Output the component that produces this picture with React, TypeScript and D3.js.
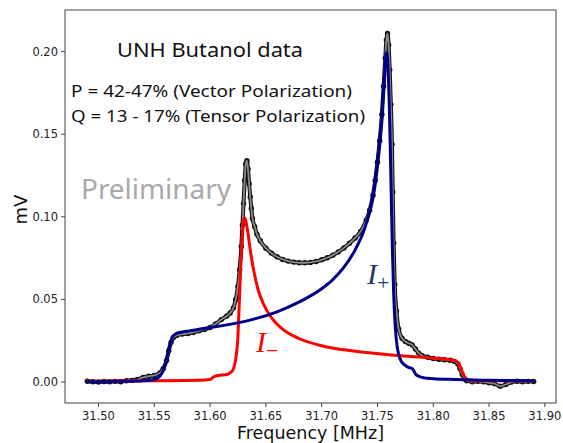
import React from "react";
import * as d3 from "d3";

const W = 563;
const H = 443;
const margin = { top: 10, right: 7, bottom: 40, left: 65 };

const measFreq = [
  31.49, 31.495, 31.5, 31.505, 31.51, 31.515, 31.52, 31.525, 31.53, 31.535,
  31.54, 31.545, 31.55, 31.555, 31.558, 31.561, 31.563, 31.565, 31.567, 31.57,
  31.575, 31.58, 31.585, 31.59, 31.595, 31.6, 31.605, 31.61, 31.615, 31.618,
  31.621, 31.623, 31.625, 31.6265, 31.628, 31.629, 31.63, 31.631, 31.632, 31.633,
  31.634, 31.635, 31.636, 31.637, 31.638, 31.64, 31.642, 31.645, 31.65, 31.655,
  31.66, 31.665, 31.67, 31.675, 31.68, 31.685, 31.69, 31.695, 31.7, 31.705,
  31.71, 31.715, 31.72, 31.725, 31.73, 31.735, 31.74, 31.743, 31.746, 31.748,
  31.75, 31.752, 31.754, 31.7555, 31.757, 31.758, 31.759, 31.76, 31.761, 31.762,
  31.763, 31.7637, 31.7645, 31.7655, 31.767, 31.769, 31.772, 31.775, 31.778, 31.781,
  31.784, 31.787, 31.79, 31.795, 31.8, 31.805, 31.81, 31.815, 31.819, 31.822,
  31.824, 31.826, 31.828, 31.83, 31.835, 31.84, 31.845, 31.85, 31.855, 31.86,
  31.865, 31.87, 31.875, 31.88, 31.885, 31.89,
];
const measMV = [
  0.0005, 0.0002, 0.0, 0.0003, 0.0001, 0.0004, 0.0002, 0.0008, 0.001, 0.0015,
  0.0028, 0.0035, 0.004, 0.0055, 0.008, 0.013, 0.019, 0.024, 0.0268, 0.0282,
  0.029, 0.0294, 0.03, 0.031, 0.0318, 0.033, 0.0352, 0.0378, 0.04, 0.0418,
  0.045, 0.05, 0.058, 0.068, 0.082, 0.095, 0.108, 0.122, 0.132, 0.134,
  0.129, 0.12, 0.112, 0.105, 0.099, 0.094, 0.0895, 0.0855, 0.081, 0.078,
  0.0758, 0.0742, 0.0732, 0.0726, 0.0722, 0.0722, 0.0724, 0.073, 0.074, 0.0752,
  0.0768, 0.0788, 0.0812, 0.084, 0.0872, 0.0912, 0.098, 0.104, 0.113, 0.122,
  0.133, 0.146, 0.162, 0.179, 0.196, 0.207, 0.211, 0.204, 0.189, 0.168,
  0.144, 0.115, 0.084, 0.059, 0.043, 0.032, 0.0265, 0.0245, 0.0235, 0.0225,
  0.02, 0.0175, 0.016, 0.015, 0.0142, 0.0138, 0.0135, 0.0132, 0.0125, 0.011,
  0.008, 0.0045, 0.002, 0.0008, 0.0002, 0.0004, 0.0001, -0.0005, -0.001, -0.0025,
  -0.0015, 0.0, 0.0005, 0.0002, 0.0004, 0.0003,
];

// I+ component (blue)
const plusFreq = [
  31.49, 31.52, 31.54, 31.55, 31.555, 31.558, 31.561, 31.563, 31.565, 31.567,
  31.57, 31.575, 31.585, 31.6, 31.62, 31.64, 31.66, 31.68, 31.7, 31.71,
  31.72, 31.73, 31.738, 31.744, 31.748, 31.751, 31.754, 31.756, 31.7575, 31.7585,
  31.7595, 31.7605, 31.7615, 31.7625, 31.7635, 31.7645, 31.766, 31.768, 31.771, 31.775,
  31.778, 31.78, 31.782, 31.784, 31.787, 31.792, 31.8, 31.82, 31.85, 31.89,
];
const plusMV = [
  0.0002, 0.0004, 0.0008, 0.0015, 0.0035, 0.007, 0.014, 0.02, 0.025, 0.028,
  0.0295, 0.0303, 0.0313, 0.033, 0.0352, 0.0382, 0.0425, 0.0485, 0.0565, 0.062,
  0.0695, 0.08, 0.092, 0.106, 0.122, 0.14, 0.162, 0.182, 0.197, 0.1995,
  0.19, 0.17, 0.142, 0.108, 0.078, 0.054, 0.033, 0.02, 0.013, 0.01,
  0.0088, 0.0085, 0.0075, 0.005, 0.0035, 0.0025, 0.002, 0.0015, 0.001, 0.0008,
];

// I- component (red)
const minusFreq = [
  31.49, 31.55, 31.59, 31.6, 31.603, 31.606, 31.61, 31.615, 31.618, 31.621,
  31.623, 31.625, 31.626, 31.627, 31.628, 31.629, 31.63, 31.631, 31.632, 31.634,
  31.636, 31.639, 31.643, 31.648, 31.655, 31.665, 31.68, 31.7, 31.72, 31.74,
  31.76, 31.78, 31.8, 31.815, 31.82, 31.823, 31.825, 31.827, 31.829, 31.832,
  31.84, 31.89,
];
const minusMV = [
  0.0005, 0.0007, 0.001, 0.0015, 0.003, 0.0038, 0.0042, 0.0045, 0.0055, 0.008,
  0.014, 0.028, 0.045, 0.062, 0.078, 0.09, 0.0975, 0.0995, 0.0975, 0.09,
  0.08, 0.068, 0.056, 0.047, 0.039, 0.032, 0.0262, 0.022, 0.0195, 0.0178,
  0.0165, 0.0155, 0.0145, 0.0135, 0.0128, 0.011, 0.008, 0.0045, 0.0022, 0.0012,
  0.0008, 0.0007,
];

const xTicks = [31.5, 31.55, 31.6, 31.65, 31.7, 31.75, 31.8, 31.85, 31.9];
const yTicks = [0, 0.05, 0.1, 0.15, 0.2];

const title = "UNH Butanol data";
const noteP = "P = 42-47% (Vector Polarization)";
const noteQ = "Q = 13 - 17% (Tensor Polarization)";

export default function App() {
  const x = d3.scaleLinear().domain([31.47, 31.91]).range([margin.left, W - margin.right]);
  const y = d3.scaleLinear().domain([-0.0127, 0.2252]).range([H - margin.bottom, margin.top]);

  const line = d3
    .line<[number, number]>()
    .x((d) => x(d[0]))
    .y((d) => y(d[1]))
    .curve(d3.curveMonotoneX);

  const meas = measFreq.map((f, i) => [f, measMV[i]] as [number, number]);
  const plus = plusFreq.map((f, i) => [f, plusMV[i]] as [number, number]);
  const minus = minusFreq.map((f, i) => [f, minusMV[i]] as [number, number]);

  const fmt = d3.format(".2f");
  const tickFont = "DejaVu Sans, sans-serif";
  const noteFont = "Noto Sans, sans-serif";
  const x0 = margin.left;
  const y0 = H - margin.bottom;

  return (
    <svg width={W} height={H} style={{ position: "absolute", left: 0, top: 0, background: "#fff" }}>
      {/* measured data: band + dots */}
      <path d={line(meas) || ""} fill="none" stroke="#111" strokeWidth={4} strokeLinejoin="round" />
      {meas.map((d, i) => (
        <circle key={i} cx={x(d[0])} cy={y(d[1])} r={2.7} fill="#111" />
      ))}
      {/* fit */}
      <path d={line(meas) || ""} fill="none" stroke="#8a8a8a" strokeWidth={1.8} />
      {/* components */}
      <path d={line(minus) || ""} fill="none" stroke="#ff0000" strokeWidth={3} strokeLinejoin="round" />
      <path d={line(plus) || ""} fill="none" stroke="#00008b" strokeWidth={3} strokeLinejoin="round" />

      {/* frame */}
      <rect
        x={x0}
        y={margin.top}
        width={W - margin.right - margin.left}
        height={H - margin.bottom - margin.top}
        fill="none"
        stroke="#444"
        strokeWidth={1}
      />

      {/* x axis */}
      {xTicks.map((t) => (
        <g key={t}>
          <line x1={x(t)} x2={x(t)} y1={y0} y2={y0 + 4} stroke="#444" />
          <text x={x(t)} y={y0 + 17} textAnchor="middle" fontFamily={tickFont} fontSize={11.5} fill="#222">
            {fmt(t)}
          </text>
        </g>
      ))}
      {/* y axis */}
      {yTicks.map((t) => (
        <g key={t}>
          <line x1={x0 - 4} x2={x0} y1={y(t)} y2={y(t)} stroke="#444" />
          <text x={x0 - 7} y={y(t) + 4} textAnchor="end" fontFamily={tickFont} fontSize={11.5} fill="#222">
            {fmt(t)}
          </text>
        </g>
      ))}
      <text x={(x0 + W - margin.right) / 2} y={439} textAnchor="middle" fontFamily={tickFont} fontSize={17.5} fill="#111">
        Frequency [MHz]
      </text>
      <text
        transform={`translate(27,${(margin.top + y0) / 2 + 3}) rotate(-90)`}
        textAnchor="middle"
        fontFamily={tickFont}
        fontSize={18}
        fill="#111"
      >
        mV
      </text>

      {/* annotations */}
      <text x={117} y={57} fontFamily={noteFont} fontSize={20} fill="#111" textLength={186} lengthAdjust="spacingAndGlyphs">
        {title}
      </text>
      <text x={71} y={97} fontFamily={noteFont} fontSize={17} fill="#111" textLength={281} lengthAdjust="spacingAndGlyphs">
        {noteP}
      </text>
      <text x={71} y={122} fontFamily={noteFont} fontSize={17} fill="#111" textLength={294} lengthAdjust="spacingAndGlyphs">
        {noteQ}
      </text>
      <text x={81} y={199} fontFamily={noteFont} fontSize={27} fill="#a9a9a9" textLength={150} lengthAdjust="spacingAndGlyphs">
        Preliminary
      </text>
      <text x={367} y={284} fontFamily="Liberation Serif, serif" fontStyle="italic" fontSize={30} fill="#1f3a60">
        I
        <tspan fontStyle="normal" fontSize={22} dy={6}>+</tspan>
      </text>
      <text x={256} y={352} fontFamily="Liberation Serif, serif" fontStyle="italic" fontSize={30} fill="#ff0000">
        I
        <tspan fontStyle="normal" fontSize={22} dy={6}>−</tspan>
      </text>
    </svg>
  );
}
